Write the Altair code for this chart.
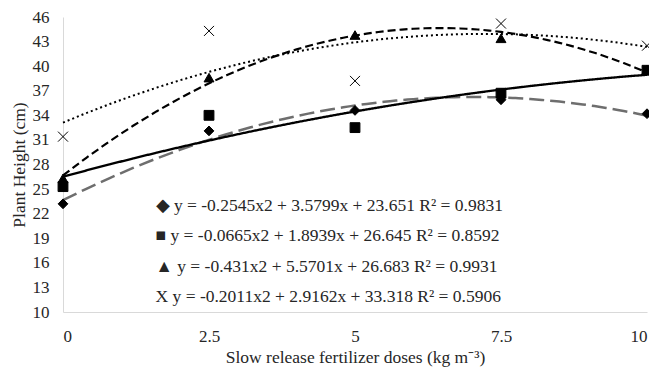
import altair as alt
import pandas as pd

doses = [0, 2.5, 5, 7.5, 10]
series = ["20", "30", "50", "75"]
h20 = [23.2, 32.1, 34.6, 35.9, 34.2]
h30 = [25.3, 34.0, 32.5, 36.7, 39.5]
h50 = [26.3, 38.6, 43.8, 43.4, 39.6]
h75 = [31.4, 44.3, 38.2, 45.2, 42.5]
equations = [
    "\u25c6 y = -0.2545x2 + 3.5799x + 23.651 R\u00b2 = 0.9831",
    "\u25a0 y = -0.0665x2 + 1.8939x + 26.645 R\u00b2 = 0.8592",
    "\u25b2 y = -0.431x2 + 5.5701x + 26.683 R\u00b2 = 0.9931",
    "X y = -0.2011x2 + 2.9162x + 33.318 R\u00b2 = 0.5906",
]
y_ticks = [10, 13, 16, 19, 22, 25, 28, 31, 34, 37, 40, 43, 46]
x_ticks = [0, 2.5, 5, 7.5, 10]

rows = []
for s, vals, eq in zip(series, [h20, h30, h50, h75], equations):
    for d, v in zip(doses, vals):
        rows.append({"dose": d, "height": v, "series": s, "eq": eq})
df = pd.DataFrame(rows)

FONT = "Liberation Serif"
xpath = "M-1,-1L1,1M-1,1L1,-1"

x_enc = alt.X("dose:Q", scale=alt.Scale(domain=[0, 10], nice=False),
              axis=alt.Axis(values=x_ticks, labelExpr="datum.value", title="Slow release fertilizer doses (kg m\u207b\u00b3)"))
y_enc = alt.Y("height:Q", scale=alt.Scale(domain=[10, 46], nice=False, zero=False),
              axis=alt.Axis(values=y_ticks, title="Plant Height (cm)"))

lines = alt.Chart(df).transform_regression(
    "dose", "height", groupby=["series"], method="poly", order=2, extent=[0, 10]
).mark_line().encode(
    x=x_enc, y=y_enc,
    stroke=alt.Stroke("series:N", scale=alt.Scale(domain=series, range=["#6e6e6e", "black", "black", "black"]), legend=None),
    strokeDash=alt.StrokeDash("series:N", scale=alt.Scale(domain=series, range=[[15, 6], [1, 0], [8, 4], [2, 3]]), legend=None),
    strokeWidth=alt.StrokeWidth("series:N", scale=alt.Scale(domain=series, range=[2.5, 2, 3, 2]), legend=None),
)

points = alt.Chart(df).mark_point(filled=True, stroke="black", strokeWidth=1, opacity=1).encode(
    x=x_enc, y=y_enc,
    size=alt.Size("series:N", scale=alt.Scale(domain=series, range=[95, 100, 105, 150]), legend=None),
    shape=alt.Shape("series:N", scale=alt.Scale(domain=series, range=["diamond", "square", "triangle-up", xpath]),
                    legend=alt.Legend(orient="none", legendX=508, legendY=180, title=None, padding=0,
                                      labelFont=FONT, labelFontSize=17.5, labelColor="#262626",
                                      symbolFillColor="black", symbolStrokeColor="black", symbolStrokeWidth=1,
                                      symbolSize=90, rowPadding=11.5, labelOffset=2)),
    color=alt.Color("eq:N", scale=alt.Scale(domain=equations, range=["black"] * 4),
                    legend=alt.Legend(orient="none", legendX=75, legendY=180, title=None, padding=0,
                                      labelFont=FONT, labelFontSize=17.5, labelColor="#262626", labelLimit=600,
                                      symbolOpacity=0, symbolSize=1, labelOffset=0, rowPadding=11.5)),
)

chart = alt.layer(lines, points).properties(
    width=584, height=295,
    autosize=alt.AutoSizeParams(type="none"),
    padding={"left": 55, "top": 9, "right": 2, "bottom": 55},
    background="white",
).configure_view(stroke=None).configure_axis(
    grid=False, ticks=False, domainColor="#d9d9d9", domainWidth=1,
    labelFont=FONT, labelFontSize=17, labelColor="#262626",
    titleFont=FONT, titleFontSize=17.5, titleColor="#262626", titleFontWeight="normal",
).configure_axisX(labelPadding=16, titlePadding=4).configure_axisY(labelPadding=14, titlePadding=4)

chart.save("out.html", embed_options={"renderer": "svg", "actions": False})
